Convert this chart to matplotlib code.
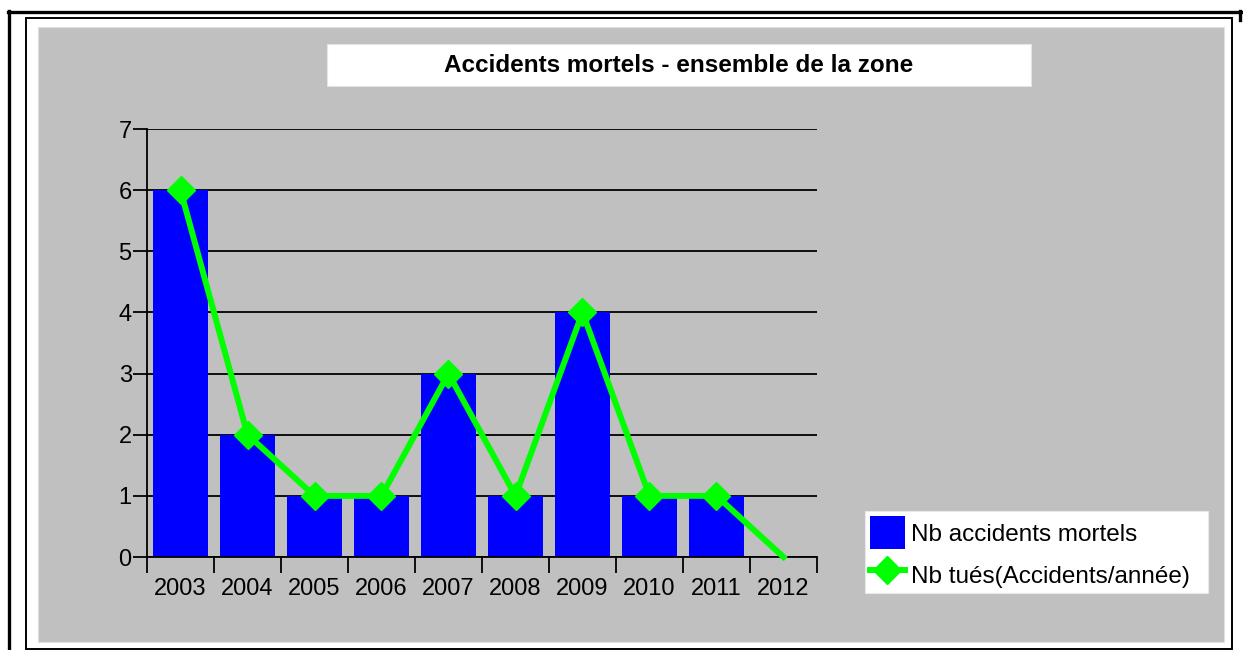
import matplotlib
matplotlib.use("Agg")
import matplotlib.pyplot as plt
from matplotlib.patches import Rectangle
from matplotlib.lines import Line2D
import numpy as np

years = ["2003", "2004", "2005", "2006", "2007", "2008", "2009", "2010", "2011", "2012"]
accidents = [6, 2, 1, 1, 3, 1, 4, 1, 1, 0]
tues = [6, 2, 1, 1, 3, 1, 4, 1, 1, 0]

plt.rcParams['font.family'] = ['Liberation Sans', 'DejaVu Sans']

W, H = 1243, 650
fig = plt.figure(figsize=(W / 100, H / 100), dpi=100)
fig.patch.set_facecolor("white")

def fx(px):
    return px / W

def fy(py):
    return 1 - py / H

# frames around the chart (behind the axes)
fig.add_artist(Line2D([fx(8), fx(1241)], [fy(11.5), fy(11.5)], color="black", lw=2.4, zorder=-10))
fig.add_artist(Line2D([fx(8.5), fx(8.5)], [fy(10.5), fy(651)], color="black", lw=2.4, zorder=-10))
fig.add_artist(Line2D([fx(1240), fx(1240)], [fy(10.5), fy(20)], color="black", lw=2.4, zorder=-10))
fig.add_artist(Rectangle((fx(25.5), fy(649)), fx(1232 - 25.5), (649 - 18) / H,
                         fill=False, ec="black", lw=1.4, zorder=-10))
fig.add_artist(Rectangle((fx(38), fy(642)), fx(1224 - 38), (642 - 27) / H,
                         fc="#c0c0c0", ec="#e0e0e0", lw=0.8, zorder=-9))

# title box
fig.add_artist(Rectangle((fx(327), fy(86)), fx(1031 - 327), (86 - 44) / H,
                         fc="white", ec="#e4e4e4", lw=0.8, zorder=-8))
fig.text(fx(679), fy(65), "Accidents mortels - ensemble de la zone",
         ha="center", va="center", fontsize=17.5, fontweight="bold")

# legend box
fig.add_artist(Rectangle((fx(865), fy(593)), fx(1208 - 865), (593 - 511) / H,
                         fc="white", ec="#e8e8e8", lw=0.8, zorder=-8))

ax = fig.add_axes([fx(147), fy(557), fx(817 - 147), (557 - 129) / H])
ax.set_facecolor("none")
x = np.arange(len(years))

ax.bar(x, accidents, width=0.83, color="#0000ff", zorder=2, label="Nb accidents mortels")
ax.plot(x, tues, color="#00ff00", lw=4.3, marker="D", markersize=14.5,
        markevery=list(range(len(years) - 1)), zorder=3, clip_on=False,
        label="Nb tués(Accidents/année)")

ax.set_xlim(-0.5, len(years) - 0.5)
ax.set_ylim(0, 7)
ax.set_yticks(range(0, 8))
ax.yaxis.grid(True, color="black", lw=1.3, zorder=0)
ax.set_axisbelow(True)

ax.set_xticks(np.arange(-0.5, len(years), 1.0))
ax.set_xticklabels([])
ax.set_xticks(x, minor=True)
ax.set_xticklabels(years, minor=True)
ax.tick_params(axis="x", which="major", direction="out", length=11.5, width=1.3, color="black")
ax.tick_params(axis="x", which="minor", length=0, labelsize=17, pad=15)
ax.tick_params(axis="y", direction="out", length=10, width=1.3, labelsize=17, pad=1)

for s in ["top", "right"]:
    ax.spines[s].set_visible(False)
ax.spines["left"].set_linewidth(1.3)
ax.spines["bottom"].set_linewidth(1.3)

handles = [Rectangle((0, 0), 1, 1, fc="#0000ff"),
           Line2D([], [], color="#00ff00", lw=4.3, marker="D", markersize=14.5)]
leg = fig.legend(handles, ["Nb accidents mortels", "Nb tués(Accidents/année)"],
                 loc="upper left", bbox_to_anchor=(fx(865), fy(511)),
                 fontsize=17.5, frameon=False, borderpad=0.2,
                 handlelength=1.45, handleheight=1.75, handletextpad=0.25,
                 labelspacing=0.35, borderaxespad=0)

fig.savefig("out.png", dpi=100)
